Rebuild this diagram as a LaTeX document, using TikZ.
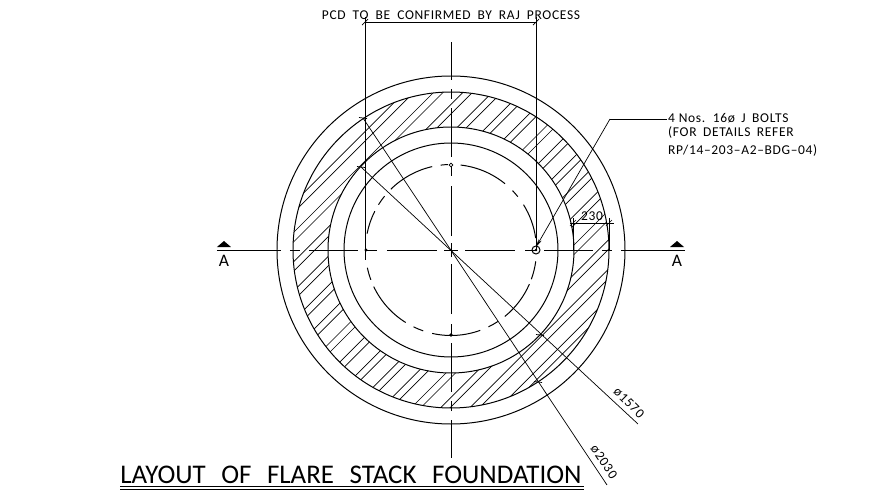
\documentclass[tikz,border=0pt]{standalone}
\usepackage{fontspec}
\setmainfont{Carlito}
\newfontfamily\cadfont[LetterSpace=5]{Carlito}
\usetikzlibrary{arrows.meta}
\tikzset{
  ring/.style={line width=0.85pt},
  hatchline/.style={line width=0.55pt},
  axisline/.style={line width=0.8pt},
  dimline/.style={line width=0.85pt},
  thinline/.style={line width=0.6pt},
  note/.style={inner sep=0pt,font=\cadfont\fontsize{11.5}{13}\selectfont},
}
\newcommand{\tickmark}[1]{\draw[thinline] (#1) ++(-3,-3) -- ++(6,6);}
\begin{document}
\begin{tikzpicture}[scale=0.03]
  \useasboundingbox (-451,-253) rectangle (441,250);
  \coordinate (cen) at (0,0);
  % hatched band
  \begin{scope}[even odd rule]
    \clip (cen) circle (158) (cen) circle (123);
    \foreach \d in {-233.6,-224.1,-204.3,-194.8,-175,-165.5,-145.7,-136.2,-116.4,-106.9,-87.1,-77.6,-57.8,-48.3,-28.5,-19,0.8,10.3,30.1,39.6,59.4,68.9,88.7,98.2,118,127.5,147.3,156.8,176.6,186.1,205.9,215.4}
    {
      \draw[hatchline] (\d-250,-250) -- (\d+250,250);
    }
  \end{scope}
  % circles
  \foreach \r/\n in {174/outer,158/band,123/inner,107/stack}
  {
    \draw[ring] (cen) circle (\r);
    \coordinate (\n) at (\r,0);
  }
  % pcd circle
  \foreach \a/\b in {83.5/50.8,44/38.6,32/8,-7.6/-20,-23.5/-51,-56.7/-64,-70/-102.7,-109/-116,-122/-154.7,-159.6/-168,169/153,148/141,134.7/102.7,97/92}
  {
    \draw[ring] (\a:85.5) arc[start angle=\a,end angle=\b,radius=85.5];
  }
  % centre lines
  \foreach \p/\q in {-161/-151,-142/-93,-86/-74,-64/-14,-7/7,14/64,74/86,93/142,151/161}
  {
    \draw[axisline] (\p,0) -- (\q,0);
    \draw[axisline] (0,\p) -- (0,\q);
  }
  \draw[axisline] (-234,0) -- (-170,0);
  \draw[axisline] (170,0) -- (234,0);
  \draw[axisline] (0,170) -- (0,208);
  \draw[axisline] (0,-170) -- (0,-208);
  % section marks
  \foreach \x/\n in {-227/secl,226/secr}
  {
    \fill (\x-7,3) -- (\x+7,3) -- (\x,9) -- cycle;
    \node[font=\fontsize{15}{16}\selectfont,inner sep=0pt] (\n) at (\x,-10.5) {A};
  }
  % bolts
  \draw[ring] (85,0) circle (4);
  \fill (85,0) circle (1.4);
  \draw[thinline,fill=white] (0,85) circle (1.8);
  \fill (0,-85) circle (1.8);
  \fill (-85,0) circle (1.6);
  % pcd dimension
  \coordinate (pcdl) at (-86,228);
  \coordinate (pcdr) at (85,228);
  \draw[dimline] (pcdl) -- (pcdr);
  \draw[dimline] (-86,233) -- (-86,-10);
  \draw[dimline] (85,233) -- (85,0);
  \tickmark{pcdl}
  \tickmark{pcdr}
  \node[note] (pcdtext) at (0,235) {PCD\hspace{0.25em} TO\hspace{0.25em} BE\hspace{0.25em} CONFIRMED\hspace{0.25em} BY\hspace{0.25em} RAJ\hspace{0.25em} PROCESS};
  % band dimension
  \coordinate (wall) at (122,27);
  \coordinate (wallr) at (158,27);
  \draw[dimline] (119,27) -- (163,27);
  \draw[dimline] (122,32) -- (122,0);
  \draw[dimline] (158,32) -- (158,0);
  \tickmark{wall}
  \tickmark{wallr}
  \node[note] (walltext) at (141,34) {230};
  % bolt leader
  \coordinate (leaderbend) at (159,131);
  \coordinate (leaderend) at (216,131);
  \draw[thinline,{Stealth[length=7,width=3]}-] (85,3) -- (leaderbend);
  \draw[thinline] (leaderbend) -- (leaderend);
  \node[note,anchor=west] (boltone) at (217,132) {4 Nos.\hspace{0.2em} 16ø\hspace{0.2em} J\hspace{0.2em} BOLTS};
  \node[note,anchor=west] (bolttwo) at (217,117) {(FOR\hspace{0.2em} DETAILS\hspace{0.2em} REFER};
  \node[note,anchor=west] (boltthree) at (217,99) {RP/14–203–A2–BDG–04)};
  % diameters
  \coordinate (dioa) at (-90,83);
  \coordinate (diob) at (187,-174);
  \coordinate (dita) at (-88,132);
  \coordinate (ditb) at (156,-235);
  \draw[thinline] (dioa) -- (diob);
  \draw[thinline] (dita) -- (ditb);
  \foreach \c in {dioa,dita,{89,-85},{87,-132}}
  {
    \draw[thinline] (\c) ++(-4,0.5) -- ++(8,-1);
  }
  \node[note,rotate=-45] (dioatext) at (178,-153) {ø1570};
  \node[note,rotate=-56] (ditatext) at (153,-212) {ø2030};
  % title
  \node[inner sep=0pt,font=\fontsize{23}{24}\selectfont] (title) at (-100,-225) {LAYOUT\hspace{0.35em} OF\hspace{0.35em} FLARE\hspace{0.35em} STACK\hspace{0.35em} FOUNDATION};
  \coordinate (ula) at (-331,-237);
  \coordinate (ulb) at (133,-237);
  \coordinate (ulc) at (-331,-240);
  \coordinate (uld) at (133,-240);
  \draw[ring] (ula) -- (ulb);
  \draw[ring] (ulc) -- (uld);
\end{tikzpicture}
\end{document}
